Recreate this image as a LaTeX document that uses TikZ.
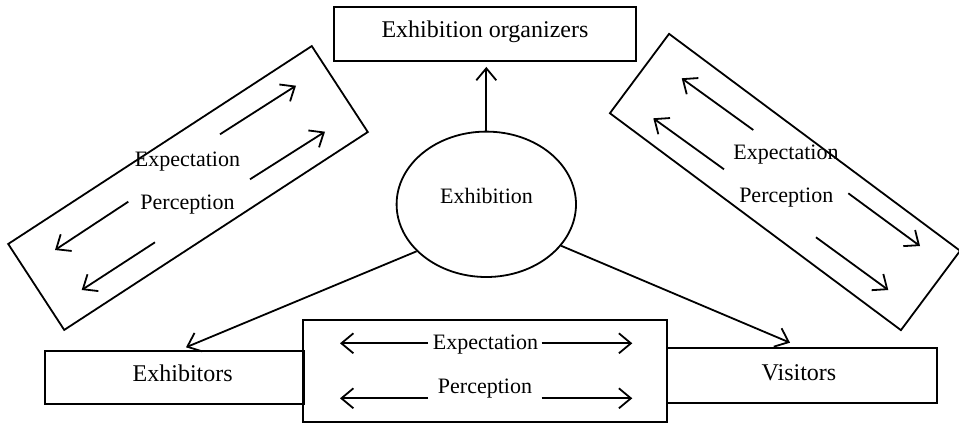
\documentclass[tikz,border=0pt]{standalone}
\usepackage{fontspec}
\setmainfont{Liberation Serif}
\usetikzlibrary{arrows.meta,shapes.geometric}
\begin{document}
\begin{tikzpicture}[x=0.5pt,y=-0.5pt,
  frame/.style={draw,line width=0.9pt,inner sep=0pt,rectangle},
  big/.style={font=\fontsize{12}{14}\selectfont,anchor=base,inner sep=0pt},
  small/.style={font=\fontsize{11}{13}\selectfont,anchor=base,inner sep=0pt},
  arr/.style={line width=0.9pt,-{Straight Barb[length=6pt,width=10pt]}}]
\useasboundingbox (0,0) rectangle (959,423);
% boxes
\node[frame,minimum width=151pt,minimum height=27pt] (org) at (485,34) {};
\node[big] (orgT) at (485,37.3) {Exhibition organizers};
\node[draw,ellipse,line width=0.9pt,inner sep=0pt,minimum width=89.7pt,minimum height=72.7pt] (ex) at (486.3,204.3) {};
\node[small] (exT) at (486.5,203.3) {Exhibition};
\node[frame,minimum width=182pt,minimum height=50.8pt] (mid) at (485.3,370.8) {};
\node[frame,minimum width=129.5pt,minimum height=26.7pt] (exh) at (174.5,377.3) {};
\node[big] (exhT) at (182.7,381.7) {Exhibitors};
\node[frame,minimum width=134.7pt,minimum height=27.2pt] (vis) at (802,375.5) {};
\node[big] (visT) at (799,380) {Visitors};
\node[frame,rotate=33.1,minimum width=181.2pt,minimum height=51.3pt] (lb) at (188,188) {};
\node[frame,rotate=-36.7,minimum width=181.5pt,minimum height=49.5pt] (rb) at (785,182) {};
% connectors
\draw[arr,shorten >=2.5pt] (ex.north) -- (ex.north |- org.south);
\coordinate (exhTip) at (186,347.3);
\coordinate (visTip) at (790,342.7);
\draw[arr] (ex.214.5) -- (exhTip);
\draw[arr] (ex.331.6) -- (visTip);
% middle box
\node[small] (mE) at (485.5,349.3) {Expectation};
\node[small] (mP) at (485,393.3) {Perception};
\draw[arr] (428,343.3) -- (340,343.3);
\draw[arr] (541.7,343.3) -- (632.3,343.3);
\draw[arr] (428,398.3) -- (340,398.3);
\draw[arr] (541.7,398.3) -- (632.3,398.3);
% left box
\node[small] (lE) at (187.5,166) {Expectation};
\node[small] (lP) at (187.5,209.3) {Perception};
\draw[arr] (220,134.3) -- (296,85.7);
\draw[arr] (250,179.3) -- (325,131.7);
\draw[arr] (128.3,201.7) -- (55,250);
\draw[arr] (155,242.3) -- (81.7,290);
% right box
\node[small] (rE) at (786,159) {Expectation};
\node[small] (rP) at (786.3,202.7) {Perception};
\draw[arr] (753.3,130) -- (681.7,78.3);
\draw[arr] (724,169.3) -- (653.3,118.3);
\draw[arr] (848.3,193.3) -- (920,246);
\draw[arr] (816,237.3) -- (888.3,290);
\end{tikzpicture}
\end{document}
